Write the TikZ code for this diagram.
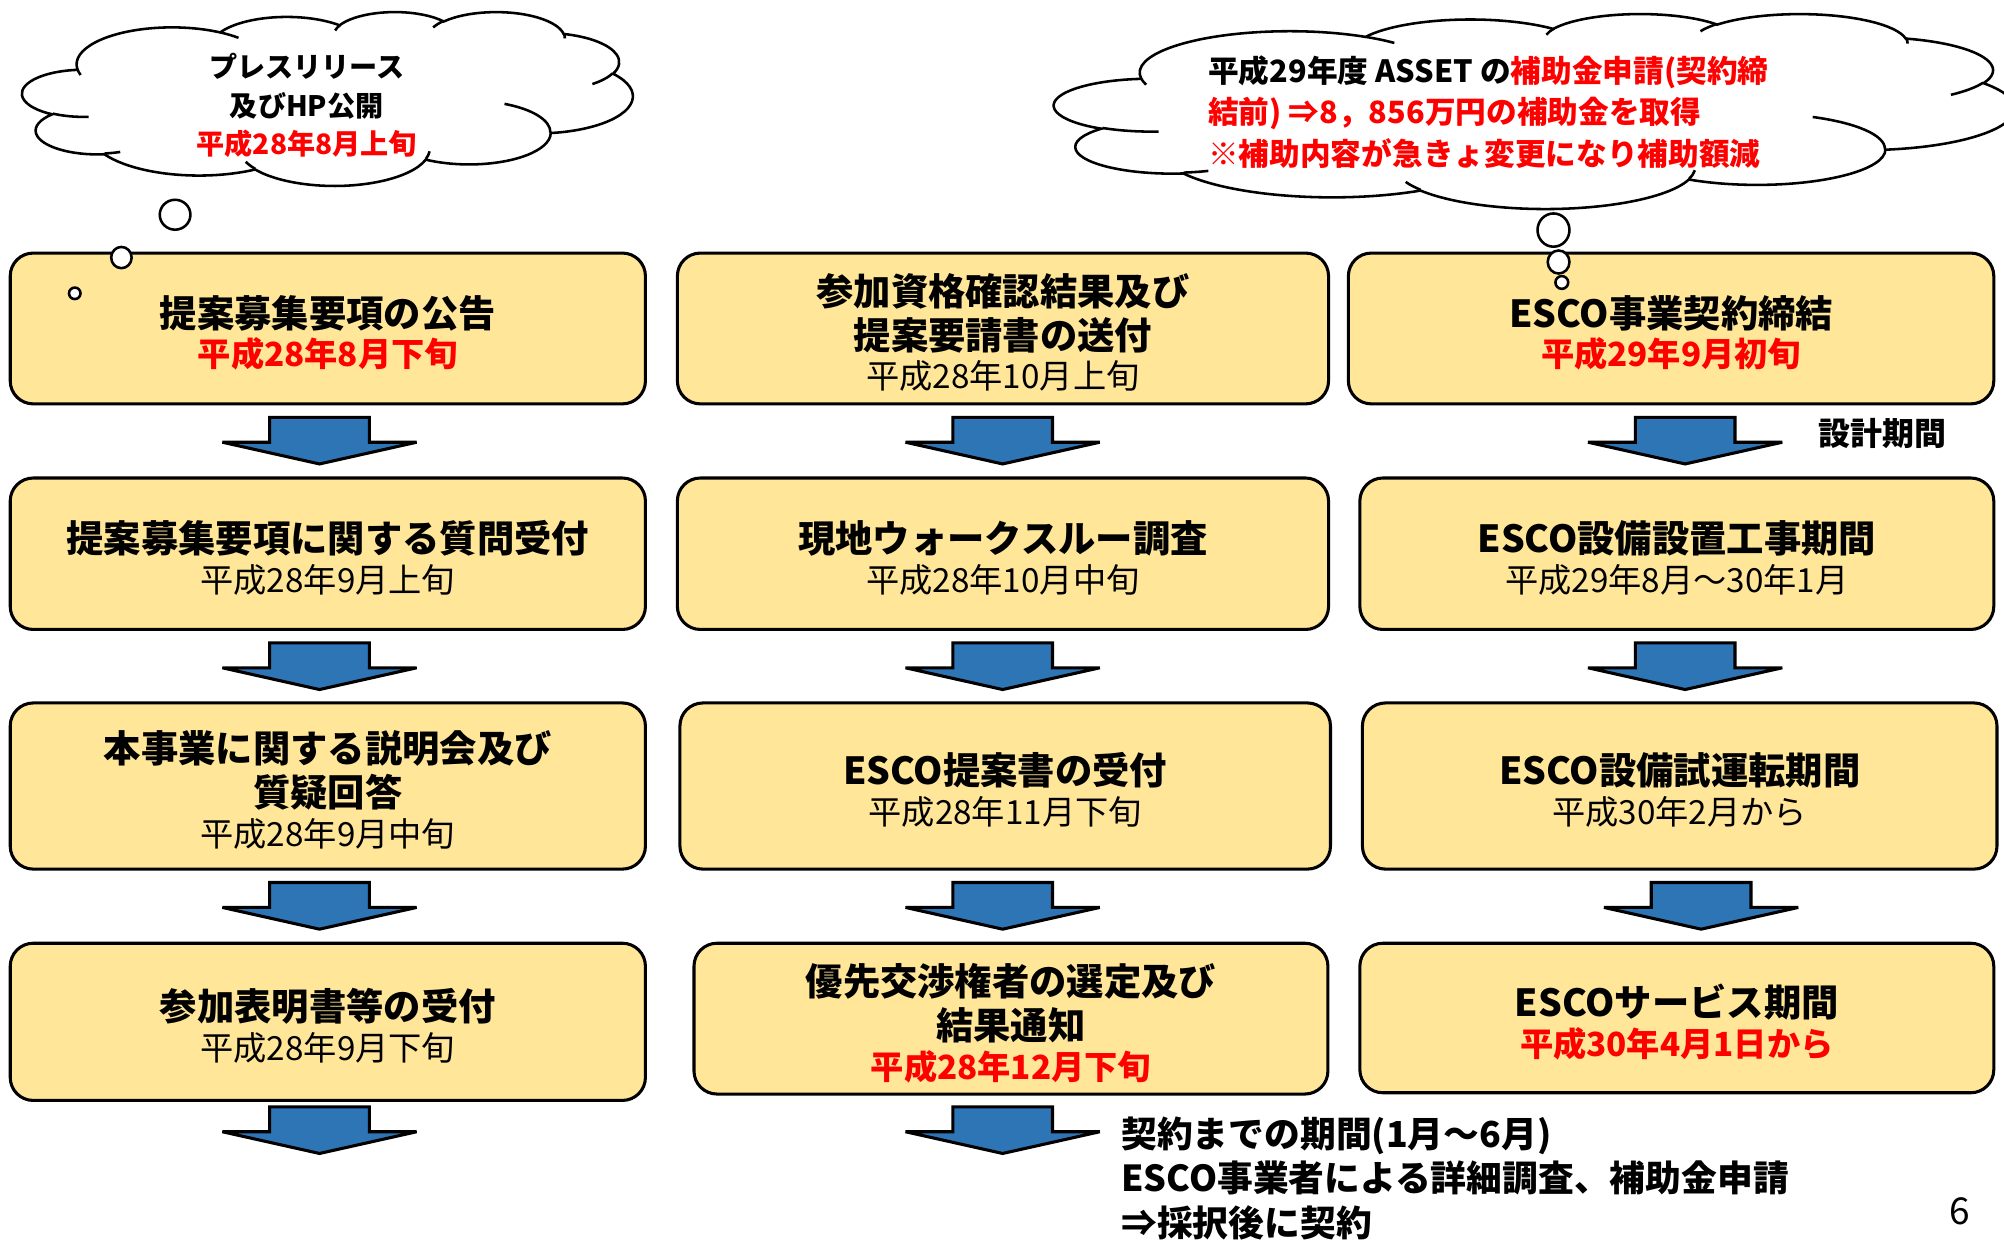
\documentclass[tikz,border=0pt]{standalone}
\usepackage{fontspec}
\setmainfont{Noto Sans CJK JP}
\usetikzlibrary{shapes.geometric}
\definecolor{boxfill}{HTML}{FFE699}
\definecolor{arrblue}{HTML}{2E75B6}
\definecolor{jred}{HTML}{FF0000}
% OOXML-style elliptical arc: name, wR, hR, start (visual deg), sweep (deg)
\newcommand\oodef[5]{%
  \pgfmathsetmacro\tmpa{atan2((#2)*sin(#4),(#3)*cos(#4))}%
  \pgfmathsetmacro\tmpb{atan2((#2)*sin((#4)+(#5)),(#3)*cos((#4)+(#5)))}%
  \pgfmathsetmacro\tmpd{mod(\tmpb-\tmpa+720,360)}%
  \edef\tmpx{\noexpand\tikzset{#1/.style={x radius=#2, y radius=#3, start angle=\tmpa, delta angle=\tmpd}}}\tmpx}
\oodef{clA}{67.53}{91.90}{-190.4875}{123.7805}
\oodef{clB}{53.33}{72.67}{-144.1024}{89.9452}
\oodef{clC}{43.65}{59.45}{-145.8079}{99.7230}
\oodef{clD}{48.57}{65.95}{-130.9861}{117.2417}
\oodef{clE}{53.33}{72.73}{-78.7089}{109.0269}
\oodef{clF}{67.75}{92.20}{-46.2673}{130.2690}
\oodef{clG}{57.85}{78.67}{0.6250}{114.0333}
\oodef{clH}{67.52}{92.15}{22.4516}{115.1726}
\oodef{clI}{77.20}{105.43}{66.2426}{75.7110}
\oodef{clJ}{43.60}{59.18}{-274.9421}{146.7356}
\oodef{clK}{43.45}{59.45}{-246.8285}{152.5189}
\oodef{ciA}{43.45}{59.45}{86.7420}{26.4295}
\oodef{ciB}{43.60}{59.18}{73.6105}{11.4475}
\oodef{ciC}{67.52}{92.15}{137.6242}{14.0811}
\oodef{ciD}{67.52}{92.15}{6.4533}{15.9984}
\oodef{ciE}{57.85}{78.67}{-70.2924}{70.9174}
\oodef{ciF}{53.33}{72.73}{30.3180}{27.7515}
\oodef{ciG}{48.57}{65.95}{-13.7443}{14.8589}
\oodef{ciH}{48.57}{65.95}{-149.1815}{18.1954}
\oodef{ciI}{43.65}{59.45}{-163.4943}{17.6864}
\oodef{ciJ}{67.53}{91.90}{-66.7070}{12.3194}
\oodef{ciK}{67.53}{91.90}{157.6544}{11.8582}
\newcommand\cloudshape{%
  \draw[cloudline, fill=white] (39.00,143.70) arc[clA] arc[clB] arc[clC] arc[clD] arc[clE] arc[clF] arc[clG] arc[clH] arc[clI] arc[clJ] arc[clK] -- cycle;
  \draw[cloudline] (46.93,261.77) arc[ciA] (69.28,348.99) arc[ciB] (164.78,390.90) arc[ciC] (288.27,347.51) arc[ciD] (341.29,229.54) arc[ciE] (417.98,153.54) arc[ciF] (383.24,54.26) arc[ciG] (290.78,39.52) arc[ciH] (221.41,47.20) arc[ciI] (140.00,51.92) arc[ciJ] (41.27,157.89) arc[ciK];}
\newcommand\tl[1]{{\bfseries\fontsize{14.6}{17.25}\selectfont\rule{0pt}{20pt}#1}}
\newcommand\dl[1]{{\mdseries\fontsize{13}{17.25}\selectfont\rule[-3.6pt]{0pt}{0pt}\raisebox{1.8pt}{#1}}}
\newcommand\rdl[1]{{\bfseries\color{jred}\fontsize{13}{17.25}\selectfont\rule[-3.6pt]{0pt}{0pt}\raisebox{1.8pt}{#1}}}
\tikzset{
  cloudline/.style={draw=black, line width=1pt},
  box/.style={draw=black, line width=1.2pt, fill=boxfill, rounded corners=9pt, align=center, inner sep=0pt,
    font=\fontsize{14.6}{17.25}\selectfont},
  arrowblk/.style={draw=black, line width=1.2pt, fill=arrblue, line join=miter, miter limit=2},
  blkarrow/.pic={\draw[arrowblk] (-39,0) -- (39,0) -- (39,19.5) -- (76,19.5) -- (0,36.5) -- (-76,19.5) -- (-39,19.5) -- cycle;},
  bubble/.style={ellipse, draw=black, line width=1pt, fill=white, inner sep=0pt},
}
\begin{document}
\begin{tikzpicture}[x=0.5pt, y=-0.5pt]
\lineskiplimit=-100pt
\lineskip=0pt
\useasboundingbox (0,0) rectangle (1568,971);
\clip (0,0) rectangle (1568,971);
% clouds
\begin{scope}[shift={(17.5,9)}, x=0.55266pt, y=-0.15741pt]
  \cloudshape
\end{scope}
\begin{scope}[shift={(825,10.5)}, x=0.86921pt, y=-0.17650pt]
  \cloudshape
\end{scope}
\node[font=\bfseries\fontsize{11}{15}\selectfont, align=center, inner sep=0pt] (c1t) at (240,82.5)
  {プレスリリース\\及びHP公開\\{\color{jred}平成28年8月上旬}};
\node[inner sep=0pt, anchor=west, align=left, font=\bfseries\fontsize{12}{16.25}\selectfont] (c2t) at (945,87.5)
  {平成29年度 ASSET の{\color{jred}補助金申請(契約締}\\{\color{jred}結前) ⇒8，856万円の補助金を取得}\\{\color{jred}※補助内容が急きょ変更になり補助額減}};
% boxes
\node[box, minimum width=248.5pt, minimum height=59pt] (b11) at (256.5,257)
  {\tl{提案募集要項の公告}\\\rdl{平成28年8月下旬}};
\node[box, minimum width=254.75pt, minimum height=59pt] (b12) at (784.75,257)
  {\tl{参加資格確認結果及び}\\\tl{提案要請書の送付}\\\dl{平成28年10月上旬}};
\node[box, minimum width=252.5pt, minimum height=59pt] (b13) at (1307.5,257)
  {\tl{ESCO事業契約締結}\\\rdl{平成29年9月初旬}};
\node[box, minimum width=248.5pt, minimum height=59.25pt] (b21) at (256.5,433.25)
  {\tl{提案募集要項に関する質問受付}\\\dl{平成28年9月上旬}};
\node[box, minimum width=254.75pt, minimum height=59.25pt] (b22) at (784.75,433.25)
  {\tl{現地ウォークスルー調査}\\\dl{平成28年10月中旬}};
\node[box, minimum width=248pt, minimum height=59.25pt] (b23) at (1312,433.25)
  {\tl{ESCO設備設置工事期間}\\\dl{平成29年8月～30年1月}};
\node[box, minimum width=248.5pt, minimum height=65pt] (b31) at (256.5,615)
  {\tl{本事業に関する説明会及び}\\\tl{質疑回答}\\\dl{平成28年9月中旬}};
\node[box, minimum width=254.5pt, minimum height=65pt] (b32) at (786.5,615)
  {\tl{ESCO提案書の受付}\\\dl{平成28年11月下旬}};
\node[box, minimum width=248.25pt, minimum height=65pt] (b33) at (1314.25,615)
  {\tl{ESCO設備試運転期間}\\\dl{平成30年2月から}};
\node[box, minimum width=248.5pt, minimum height=61.5pt] (b41) at (256.5,799.5)
  {\tl{参加表明書等の受付}\\\dl{平成28年9月下旬}};
\node[box, minimum width=248pt, minimum height=59pt] (b42) at (791,797)
  {\tl{優先交渉権者の選定及び}\\\tl{結果通知}\\\rdl{平成28年12月下旬}};
\node[box, minimum width=248pt, minimum height=58.5pt] (b43) at (1312,796.5)
  {\tl{ESCOサービス期間}\\\rdl{平成30年4月1日から}};
% thought bubbles
\node[bubble, minimum width=12pt, minimum height=11.7pt] (p11) at (137,168) {};
\node[bubble, minimum width=8pt, minimum height=8.3pt] (p12) at (95,201.5) {};
\node[bubble, minimum width=4.5pt, minimum height=4.5pt] (p13) at (58.5,229.5) {};
\node[bubble, minimum width=12.5pt, minimum height=13pt] (p21) at (1215.5,180) {};
\node[bubble, minimum width=8.5pt, minimum height=9pt] (p22) at (1219.5,205) {};
\node[bubble, minimum width=5pt, minimum height=5pt] (p23) at (1222,221) {};
% block arrows
\pic (a11) at (250,326.5) {blkarrow};
\pic (a12) at (250,503) {blkarrow};
\pic (a13) at (250,690.5) {blkarrow};
\pic (a14) at (250,866) {blkarrow};
\pic (a21) at (784.5,326.5) {blkarrow};
\pic (a22) at (784.5,503) {blkarrow};
\pic (a23) at (784.5,690.5) {blkarrow};
\pic (a24) at (784.5,866) {blkarrow};
\pic (a31) at (1318.5,326.5) {blkarrow};
\pic (a32) at (1318.5,503) {blkarrow};
\pic (a33) at (1331,690.5) {blkarrow};
% side texts
\node[font=\bfseries\fontsize{12.5}{14}\selectfont, inner sep=0pt] (sekkei) at (1473,339) {設計期間};
\node[inner sep=0pt, anchor=west, align=left, font=\bfseries\fontsize{14}{17.5}\selectfont] (note) at (877,922)
  {契約までの期間(1月～6月)\\ESCO事業者による詳細調査、補助金申請\\⇒採択後に契約};
\node[font=\fontsize{14.5}{16}\selectfont, inner sep=0pt] (pg) at (1533,948) {6};
\end{tikzpicture}
\end{document}
